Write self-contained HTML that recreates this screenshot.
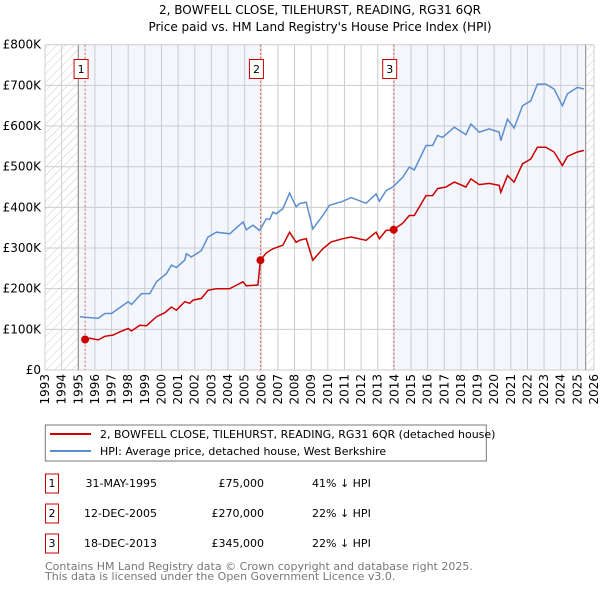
<!DOCTYPE html>
<html><head><meta charset="utf-8"><style>
body{margin:0;background:#fff;width:600px;height:590px;overflow:hidden;font-family:"DejaVu Sans","Liberation Sans",sans-serif;}
svg text{font-family:"DejaVu Sans","Liberation Sans",sans-serif;}
</style></head><body>
<svg id="c" width="600" height="590" xmlns="http://www.w3.org/2000/svg">
<defs><pattern id="hatch" width="6" height="6" patternUnits="userSpaceOnUse" patternTransform="rotate(45)"><line x1="0" y1="0" x2="0" y2="6" stroke="#ccc" stroke-width="1"/></pattern></defs>
<text x="320" y="14" font-size="12" text-anchor="middle">2, BOWFELL CLOSE, TILEHURST, READING, RG31 6QR</text>
<text x="320" y="31" font-size="12" text-anchor="middle">Price paid vs. HM Land Registry's House Price Index (HPI)</text>
<g id="plot"></g>
<rect x="45.3" y="425" width="441" height="36" fill="#fff" stroke="#777"/>
<line x1="50" y1="434" x2="91" y2="434" stroke="#cc0000" stroke-width="2"/>
<text x="100" y="438" font-size="11">2, BOWFELL CLOSE, TILEHURST, READING, RG31 6QR (detached house)</text>
<line x1="50" y1="451" x2="91" y2="451" stroke="#5b8fd0" stroke-width="2"/>
<text x="100" y="455" font-size="11">HPI: Average price, detached house, West Berkshire</text>
<g id="table" font-size="11"></g>
<text x="45" y="570" font-size="11" fill="#777">Contains HM Land Registry data © Crown copyright and database right 2025.</text>
<text x="45" y="580" font-size="11" fill="#777">This data is licensed under the Open Government Licence v3.0.</text>
</svg>
<script>
const yTicks=[0,100000,200000,300000,400000,500000,600000,700000,800000];
const yTickLabels=["£0","£100K","£200K","£300K","£400K","£500K","£600K","£700K","£800K"];
const xYears=[1993,1994,1995,1996,1997,1998,1999,2000,2001,2002,2003,2004,2005,2006,2007,2008,2009,2010,2011,2012,2013,2014,2015,2016,2017,2018,2019,2020,2021,2022,2023,2024,2025,2026];
const hpiDates=[1995.1,1996.2,1996.6,1997.0,1998.0,1998.2,1998.8,1999.3,1999.7,2000.3,2000.6,2000.9,2001.4,2001.5,2001.8,2002.4,2002.8,2003.3,2004.1,2004.9,2005.1,2005.5,2005.9,2006.3,2006.5,2006.7,2006.9,2007.3,2007.7,2008.1,2008.3,2008.7,2009.1,2009.7,2010.1,2010.9,2011.4,2012.3,2012.9,2013.1,2013.5,2013.9,2014.5,2014.9,2015.2,2015.9,2016.3,2016.6,2016.9,2017.6,2018.3,2018.6,2019.1,2019.7,2020.3,2020.4,2020.8,2021.2,2021.7,2022.2,2022.6,2023.1,2023.6,2024.1,2024.4,2025.0,2025.4];
const hpiValues=[131,127,139,139,168,161,188,188,217,237,258,252,270,286,278,294,327,339,335,364,345,356,343,372,370,388,384,397,435,401,409,413,347,380,405,415,424,410,433,415,441,450,474,499,492,552,552,577,572,597,579,605,585,593,585,564,617,595,650,662,703,703,691,650,679,695,691];
const propDates=[1995.41,1995.7,1996.2,1996.6,1997.1,1997.5,1998.0,1998.2,1998.7,1999.1,1999.7,2000.2,2000.6,2000.9,2001.4,2001.7,2001.9,2002.4,2002.8,2003.3,2004.1,2004.3,2004.9,2005.1,2005.8,2005.95,2006.3,2006.7,2007.3,2007.7,2008.1,2008.3,2008.7,2009.1,2009.7,2010.2,2010.9,2011.4,2012.3,2012.9,2013.1,2013.5,2013.96,2014.5,2014.9,2015.2,2015.9,2016.3,2016.6,2017.1,2017.6,2018.3,2018.6,2019.1,2019.7,2020.3,2020.4,2020.8,2021.2,2021.7,2022.2,2022.6,2023.1,2023.6,2024.1,2024.4,2025.0,2025.4];
const propValues=[75,78,74,83,86,94,102,96,110,109,131,141,155,147,168,164,172,176,196,200,200,204,217,207,209,270,288,298,307,339,314,319,323,270,298,315,323,327,319,339,323,343,345,361,380,380,429,429,446,450,462,450,470,456,459,454,437,478,462,507,519,548,548,536,503,525,536,540];
const saleLabels=["1","2","3"];
const saleDates=[1995.41,2005.95,2013.96];
const salePrices=[75000,270000,345000];
const saleDateText=["31-MAY-1995","12-DEC-2005","18-DEC-2013"];
const salePriceText=["£75,000","£270,000","£345,000"];
const saleHpiText=["41% ↓ HPI","22% ↓ HPI","22% ↓ HPI"];

const X0=45,X1=594,Y0=370,Y1=44.7;
const xs=y=>X0+(y-1993)/(2026-1993)*(X1-X0);
const ys=v=>Y0-v/800000*(Y0-Y1);
const NS="http://www.w3.org/2000/svg";
const g=document.getElementById('plot');
function mk(tag,attrs,parent){const e=document.createElementNS(NS,tag);for(const k in attrs)e.setAttribute(k,attrs[k]);(parent||g).appendChild(e);return e;}
let e;
e=mk('rect',{x:xs(1993),y:Y1,width:xs(1995)-xs(1993),height:Y0-Y1,fill:'url(#hatch)'});


e=mk('rect',{x:xs(1995),y:Y1,width:xs(saleDates[1])-xs(1995),height:Y0-Y1,fill:'#f3f6fd'});


e=mk('rect',{x:xs(saleDates[2]),y:Y1,width:xs(2025.5)-xs(saleDates[2]),height:Y0-Y1,fill:'#f3f6fd'});


e=mk('rect',{x:xs(2025.5),y:Y1,width:X1-xs(2025.5),height:Y0-Y1,fill:'url(#hatch)'});


yTicks.forEach((v,i)=>{
  e=mk('line',{x1:X0,x2:X1,y1:ys(v),y2:ys(v),stroke:'#ccc','stroke-width':1});
  
  
  e=mk('text',{x:X0-4,y:ys(v)+4,'font-size':12,'text-anchor':'end'});e.textContent=yTickLabels[i];
  
  
});
xYears.forEach(yr=>{
  e=mk('line',{x1:xs(yr),x2:xs(yr),y1:Y1,y2:Y0,stroke:'#ccc','stroke-width':1});
  
  
  const t=mk('text',{x:0,y:0,'font-size':12,'text-anchor':'end',transform:`translate(${xs(yr)+4},${Y0+4}) rotate(-90)`});t.textContent=yr;
  
  
});
e=mk('line',{x1:xs(1995),x2:xs(1995),y1:Y1,y2:Y0,stroke:'#888'});


e=mk('line',{x1:xs(2025.5),x2:xs(2025.5),y1:Y1,y2:Y0,stroke:'#888'});


saleDates.forEach((d,i)=>{
  e=mk('line',{x1:xs(d),x2:xs(d),y1:Y1,y2:Y0,stroke:'#e06060','stroke-dasharray':'2,2','stroke-width':1});
  
  
});
const pts=(ds,vs)=>ds.map((d,i)=>xs(d).toFixed(1)+','+ys(vs[i]*1000).toFixed(1)).join(' ');
e=mk('polyline',{points:pts(hpiDates,hpiValues),fill:'none',stroke:'#5b8fd0','stroke-width':1.5});


e=mk('polyline',{points:pts(propDates,propValues),fill:'none',stroke:'#cc0000','stroke-width':1.5});


saleDates.forEach((d,i)=>{
  e=mk('circle',{cx:xs(d),cy:ys(salePrices[i]),r:4,fill:'#cc0000'});
  
  
  const bx=xs(d)-4;
  e=mk('rect',{x:bx-7,y:59.5,width:14,height:19,fill:'#fff',stroke:'#cc0000'});
  
  
  const t=mk('text',{x:bx,y:73,'font-size':11,'text-anchor':'middle'});t.textContent=saleLabels[i];
  
  
});
const tb=document.getElementById('table');
saleLabels.forEach((l,i)=>{
  const cy=483+30*i;
  e=mk('rect',{x:45.5,y:cy-9,width:13,height:19,fill:'#fff',stroke:'#cc0000'},tb);
  
  
  e=mk('text',{x:52,y:cy+4,'text-anchor':'middle'},tb);e.textContent=l;
  
  
  e=mk('text',{x:157,y:cy+4,'text-anchor':'end'},tb);e.textContent=saleDateText[i];
  
  
  e=mk('text',{x:264,y:cy+4,'text-anchor':'end'},tb);e.textContent=salePriceText[i];
  
  
  e=mk('text',{x:312,y:cy+4},tb);e.textContent=saleHpiText[i];
  
  
});
</script>
</body></html>
